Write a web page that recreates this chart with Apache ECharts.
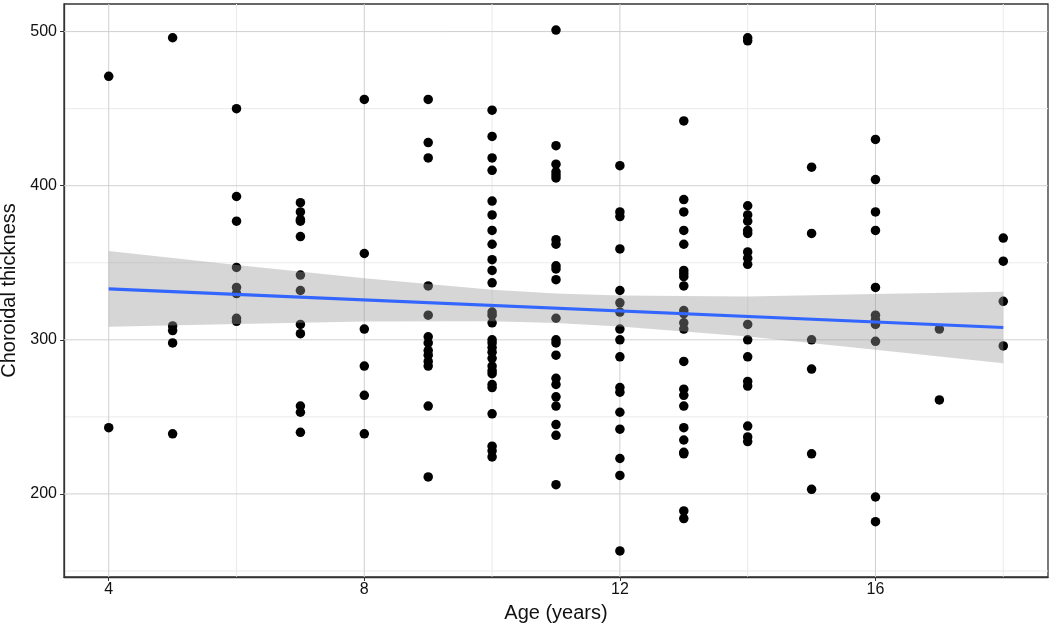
<!DOCTYPE html>
<html lang="en">
<head>
  <meta charset="UTF-8">
  <title>Choroidal thickness by age</title>
  <script src="https://cdn.jsdelivr.net/npm/echarts@6/dist/echarts.min.js"></script>
  <style>
    html, body { margin: 0; padding: 0; background: #fff; }
    #chart { width: 1052px; height: 629px; }
  </style>
</head>
<body>
  <div id="chart"></div>

  <script>
    // ages and the thickness readings at each age
    const ages = [4, 5, 6, 7, 8, 9, 10, 11, 12, 13, 14, 15, 16, 17, 18];
    const thicknessByAge = [
      [471, 243],
      [496, 309, 306, 298, 239],
      [450, 393, 377, 347, 334, 330, 314, 312],
      [389, 383, 378, 377, 367, 342, 332, 310, 304, 257, 253, 240],
      [456, 356, 307, 283, 264, 239],
      [456, 428, 418, 335, 316, 302, 298, 293, 290, 286, 283, 257, 211],
      [449, 432, 418, 410, 390, 381, 371, 362, 352, 345, 337, 318, 316, 311, 300, 298, 295, 292, 288, 283, 280, 278, 271, 269, 252, 231, 228, 224],
      [501, 426, 414, 409, 407, 405, 365, 362, 348, 346, 339, 314, 300, 298, 290, 275, 271, 263, 257, 245, 238, 206],
      [413, 383, 380, 359, 332, 324, 318, 307, 300, 289, 269, 266, 253, 242, 223, 212, 163],
      [442, 391, 383, 371, 362, 345, 343, 341, 335, 319, 317, 311, 307, 286, 268, 264, 257, 243, 235, 227, 226, 189, 184],
      [496, 494, 387, 381, 377, 371, 369, 357, 353, 349, 310, 300, 289, 273, 270, 244, 237, 234],
      [412, 369, 300, 281, 226, 203],
      [430, 404, 383, 371, 334, 316, 313, 310, 299, 198, 182],
      [307, 261],
      [366, 351, 325, 296]
    ];

    // linear fit and its confidence band
    const fitLineAge = [4, 18];
    const fitLineValue = [333.0, 308.0];
    const bandAge = [4, 6, 8, 10, 11, 12, 14, 16, 18];
    const bandHigh = [357.6, 348.5, 339.9, 332.5, 330.1, 328.7, 328.1, 329.7, 331.2];
    const bandLow = [308.4, 310.3, 311.9, 312.1, 310.9, 308.7, 302.1, 293.5, 284.8];

    // axis ticks
    const xTicks = [4, 8, 12, 16];
    const xMinorTicks = [6, 10, 14, 18];
    const yTicks = [200, 300, 400, 500];
    const yMinorTicks = [150, 250, 350, 450];

    const xMin = 3.3, xMax = 18.7;
    const yMin = 146.1, yMax = 517.9;

    const points = [];
    ages.forEach((a, i) => {
      thicknessByAge[i].forEach(v => points.push([a, v]));
    });

    // grid lines drawn through the axis scales
    function gridSeries(vals, dir, color, z) {
      return {
        type: 'custom',
        silent: true,
        z: z,
        data: vals.map(v => [v]),
        renderItem: (params, api) => {
          const v = api.value(0);
          const p1 = dir === 'h' ? api.coord([xMin, v]) : api.coord([v, yMin]);
          const p2 = dir === 'h' ? api.coord([xMax, v]) : api.coord([v, yMax]);
          return {
            type: 'line',
            shape: { x1: p1[0], y1: p1[1], x2: p2[0], y2: p2[1] },
            style: { stroke: color, lineWidth: 1 }
          };
        }
      };
    }

    const chart = echarts.init(document.getElementById('chart'));
    const font = '"Liberation Sans", Arial, sans-serif';

    chart.setOption({
      animation: false,
      backgroundColor: '#fff',
      grid: {
        left: 64, right: 4, top: 4, bottom: 52,
        outerBoundsMode: 'none',
        containLabel: false,
        show: true, borderColor: '#333', borderWidth: 1.3
      },
      xAxis: {
        type: 'value',
        min: xMin, max: xMax,
        name: 'Age (years)',
        nameLocation: 'middle',
        nameGap: 26,
        nameTextStyle: { fontFamily: font, fontSize: 20, color: '#111' },
        axisLine: { show: true, lineStyle: { color: '#333', width: 1.3 } },
        axisTick: { show: true, length: 4, customValues: xTicks, lineStyle: { color: '#333' } },
        axisLabel: { customValues: xTicks, margin: 5, fontFamily: font, fontSize: 16, color: '#111' },
        splitLine: { show: false }
      },
      yAxis: {
        type: 'value',
        min: yMin, max: yMax,
        name: 'Choroidal thickness',
        nameLocation: 'middle',
        nameGap: 40,
        nameTextStyle: { fontFamily: font, fontSize: 20, color: '#111' },
        axisLine: { show: true, lineStyle: { color: '#333', width: 1.3 } },
        axisTick: { show: true, length: 4, customValues: yTicks, lineStyle: { color: '#333' } },
        axisLabel: { customValues: yTicks, margin: 7, fontFamily: font, fontSize: 16, color: '#111' },
        splitLine: { show: false }
      },
      series: [
        gridSeries(yMinorTicks, 'h', '#ebebeb', 0),
        gridSeries(xMinorTicks, 'v', '#ebebeb', 0),
        gridSeries(yTicks, 'h', '#d0d0d0', 1),
        gridSeries(xTicks, 'v', '#d0d0d0', 1),
        {
          type: 'scatter',
          z: 2,
          symbolSize: 9.5,
          itemStyle: { color: '#000', opacity: 1 },
          data: points
        },
        {
          type: 'custom',
          z: 3,
          silent: true,
          data: [[bandAge[0], bandHigh[0]]],
          renderItem: (params, api) => {
            const pts = [];
            bandAge.forEach((a, i) => pts.push(api.coord([a, bandHigh[i]])));
            for (let i = bandAge.length - 1; i >= 0; i--) pts.push(api.coord([bandAge[i], bandLow[i]]));
            return {
              type: 'polygon',
              shape: { points: pts },
              style: { fill: 'rgba(153,153,153,0.4)' }
            };
          }
        },
        {
          type: 'line',
          z: 4,
          symbol: 'none',
          silent: true,
          lineStyle: { color: '#3366FF', width: 3.2 },
          data: fitLineAge.map((a, i) => [a, fitLineValue[i]])
        }
      ]
    });

    window.onresize = () => chart.resize();
  </script>
</body>
</html>
